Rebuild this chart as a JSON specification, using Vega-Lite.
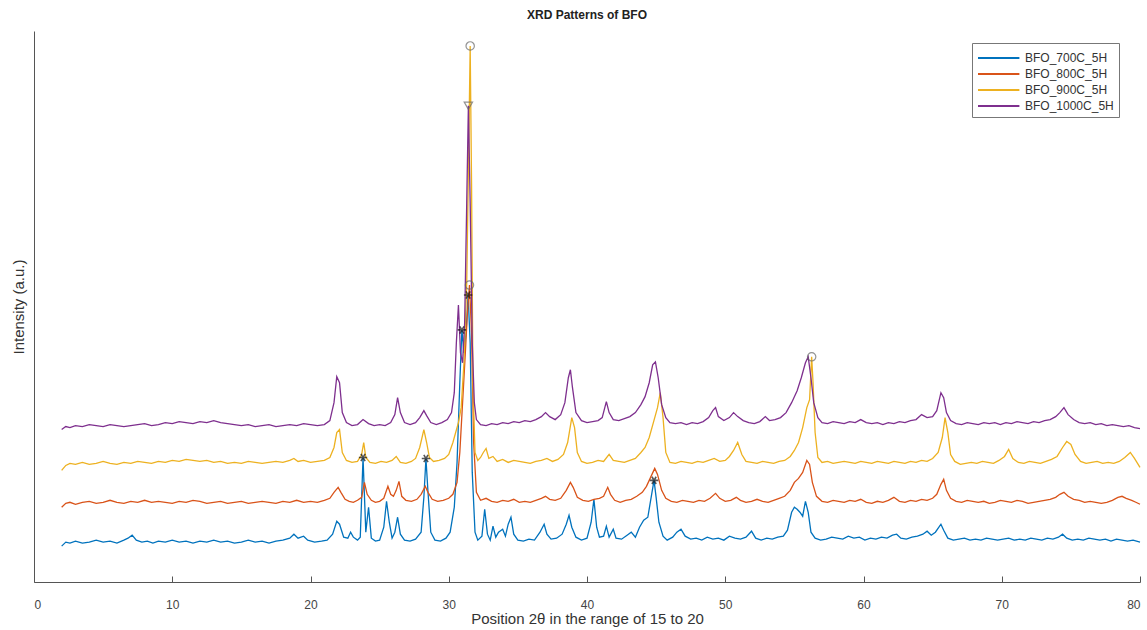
{
"$schema":"https://vega.github.io/schema/vega-lite/v6.json",
"width":1147,"height":630,
"autosize":{"type":"fit","contains":"padding"},
"padding":{"left":11,"top":9,"right":4,"bottom":4},
"background":"white",
"config":{"view":{"stroke":null},"font":"Liberation Sans"},
"title":{"text":"XRD Patterns of BFO","fontSize":12,"fontWeight":"bold","color":"#222","anchor":"middle","offset":9},
"layer":[
{"data":{"values":[
{"s":"BFO_700C_5H","x":2.0,"y":36},{"s":"BFO_700C_5H","x":2.3,"y":40},{"s":"BFO_700C_5H","x":2.6,"y":39},{"s":"BFO_700C_5H","x":3.0,"y":41},{"s":"BFO_700C_5H","x":3.5,"y":39},{"s":"BFO_700C_5H","x":4.0,"y":40},{"s":"BFO_700C_5H","x":4.5,"y":42},{"s":"BFO_700C_5H","x":5.0,"y":40},{"s":"BFO_700C_5H","x":5.5,"y":41},{"s":"BFO_700C_5H","x":6.0,"y":39},{"s":"BFO_700C_5H","x":6.5,"y":42},{"s":"BFO_700C_5H","x":6.8,"y":44},{"s":"BFO_700C_5H","x":7.1,"y":47},{"s":"BFO_700C_5H","x":7.4,"y":42},{"s":"BFO_700C_5H","x":7.8,"y":40},{"s":"BFO_700C_5H","x":8.2,"y":41},{"s":"BFO_700C_5H","x":8.6,"y":39},{"s":"BFO_700C_5H","x":9.0,"y":41},{"s":"BFO_700C_5H","x":9.5,"y":40},{"s":"BFO_700C_5H","x":10.0,"y":42},{"s":"BFO_700C_5H","x":10.5,"y":40},{"s":"BFO_700C_5H","x":11.0,"y":41},{"s":"BFO_700C_5H","x":11.5,"y":39},{"s":"BFO_700C_5H","x":12.0,"y":41},{"s":"BFO_700C_5H","x":12.5,"y":40},{"s":"BFO_700C_5H","x":13.0,"y":42},{"s":"BFO_700C_5H","x":13.5,"y":40},{"s":"BFO_700C_5H","x":14.0,"y":41},{"s":"BFO_700C_5H","x":14.5,"y":39},{"s":"BFO_700C_5H","x":15.0,"y":40},{"s":"BFO_700C_5H","x":15.5,"y":42},{"s":"BFO_700C_5H","x":16.0,"y":40},{"s":"BFO_700C_5H","x":16.5,"y":41},{"s":"BFO_700C_5H","x":17.0,"y":39},{"s":"BFO_700C_5H","x":17.5,"y":41},{"s":"BFO_700C_5H","x":18.0,"y":42},{"s":"BFO_700C_5H","x":18.5,"y":44},{"s":"BFO_700C_5H","x":18.8,"y":48},{"s":"BFO_700C_5H","x":19.1,"y":44},{"s":"BFO_700C_5H","x":19.5,"y":46},{"s":"BFO_700C_5H","x":19.8,"y":42},{"s":"BFO_700C_5H","x":20.3,"y":40},{"s":"BFO_700C_5H","x":20.8,"y":41},{"s":"BFO_700C_5H","x":21.2,"y":42},{"s":"BFO_700C_5H","x":21.6,"y":48},{"s":"BFO_700C_5H","x":21.9,"y":61},{"s":"BFO_700C_5H","x":22.1,"y":58},{"s":"BFO_700C_5H","x":22.4,"y":45},{"s":"BFO_700C_5H","x":22.7,"y":44},{"s":"BFO_700C_5H","x":22.9,"y":50},{"s":"BFO_700C_5H","x":23.1,"y":45},{"s":"BFO_700C_5H","x":23.4,"y":42},{"s":"BFO_700C_5H","x":23.6,"y":45},{"s":"BFO_700C_5H","x":23.8,"y":125},{"s":"BFO_700C_5H","x":24.0,"y":50},{"s":"BFO_700C_5H","x":24.2,"y":75},{"s":"BFO_700C_5H","x":24.4,"y":44},{"s":"BFO_700C_5H","x":24.7,"y":41},{"s":"BFO_700C_5H","x":25.0,"y":42},{"s":"BFO_700C_5H","x":25.3,"y":55},{"s":"BFO_700C_5H","x":25.5,"y":81},{"s":"BFO_700C_5H","x":25.7,"y":60},{"s":"BFO_700C_5H","x":25.9,"y":44},{"s":"BFO_700C_5H","x":26.1,"y":50},{"s":"BFO_700C_5H","x":26.3,"y":65},{"s":"BFO_700C_5H","x":26.5,"y":48},{"s":"BFO_700C_5H","x":26.8,"y":42},{"s":"BFO_700C_5H","x":27.2,"y":41},{"s":"BFO_700C_5H","x":27.6,"y":43},{"s":"BFO_700C_5H","x":28.0,"y":50},{"s":"BFO_700C_5H","x":28.2,"y":85},{"s":"BFO_700C_5H","x":28.35,"y":124},{"s":"BFO_700C_5H","x":28.5,"y":90},{"s":"BFO_700C_5H","x":28.7,"y":50},{"s":"BFO_700C_5H","x":29.0,"y":42},{"s":"BFO_700C_5H","x":29.4,"y":41},{"s":"BFO_700C_5H","x":29.8,"y":44},{"s":"BFO_700C_5H","x":30.1,"y":50},{"s":"BFO_700C_5H","x":30.4,"y":75},{"s":"BFO_700C_5H","x":30.6,"y":120},{"s":"BFO_700C_5H","x":30.8,"y":200},{"s":"BFO_700C_5H","x":30.95,"y":253},{"s":"BFO_700C_5H","x":31.1,"y":230},{"s":"BFO_700C_5H","x":31.25,"y":250},{"s":"BFO_700C_5H","x":31.4,"y":288},{"s":"BFO_700C_5H","x":31.55,"y":240},{"s":"BFO_700C_5H","x":31.7,"y":110},{"s":"BFO_700C_5H","x":31.9,"y":50},{"s":"BFO_700C_5H","x":32.1,"y":42},{"s":"BFO_700C_5H","x":32.4,"y":46},{"s":"BFO_700C_5H","x":32.6,"y":73},{"s":"BFO_700C_5H","x":32.8,"y":48},{"s":"BFO_700C_5H","x":33.0,"y":42},{"s":"BFO_700C_5H","x":33.2,"y":56},{"s":"BFO_700C_5H","x":33.4,"y":45},{"s":"BFO_700C_5H","x":33.6,"y":50},{"s":"BFO_700C_5H","x":33.9,"y":53},{"s":"BFO_700C_5H","x":34.1,"y":46},{"s":"BFO_700C_5H","x":34.3,"y":58},{"s":"BFO_700C_5H","x":34.5,"y":65},{"s":"BFO_700C_5H","x":34.7,"y":48},{"s":"BFO_700C_5H","x":35.0,"y":42},{"s":"BFO_700C_5H","x":35.4,"y":41},{"s":"BFO_700C_5H","x":35.8,"y":43},{"s":"BFO_700C_5H","x":36.2,"y":42},{"s":"BFO_700C_5H","x":36.6,"y":50},{"s":"BFO_700C_5H","x":36.9,"y":58},{"s":"BFO_700C_5H","x":37.1,"y":48},{"s":"BFO_700C_5H","x":37.4,"y":43},{"s":"BFO_700C_5H","x":37.8,"y":44},{"s":"BFO_700C_5H","x":38.2,"y":48},{"s":"BFO_700C_5H","x":38.5,"y":58},{"s":"BFO_700C_5H","x":38.7,"y":67},{"s":"BFO_700C_5H","x":38.9,"y":55},{"s":"BFO_700C_5H","x":39.2,"y":45},{"s":"BFO_700C_5H","x":39.6,"y":42},{"s":"BFO_700C_5H","x":40.0,"y":44},{"s":"BFO_700C_5H","x":40.3,"y":60},{"s":"BFO_700C_5H","x":40.5,"y":83},{"s":"BFO_700C_5H","x":40.7,"y":55},{"s":"BFO_700C_5H","x":40.9,"y":45},{"s":"BFO_700C_5H","x":41.2,"y":46},{"s":"BFO_700C_5H","x":41.4,"y":56},{"s":"BFO_700C_5H","x":41.6,"y":45},{"s":"BFO_700C_5H","x":41.9,"y":53},{"s":"BFO_700C_5H","x":42.1,"y":44},{"s":"BFO_700C_5H","x":42.5,"y":43},{"s":"BFO_700C_5H","x":42.9,"y":47},{"s":"BFO_700C_5H","x":43.2,"y":50},{"s":"BFO_700C_5H","x":43.5,"y":45},{"s":"BFO_700C_5H","x":43.8,"y":55},{"s":"BFO_700C_5H","x":44.1,"y":62},{"s":"BFO_700C_5H","x":44.4,"y":65},{"s":"BFO_700C_5H","x":44.7,"y":90},{"s":"BFO_700C_5H","x":44.85,"y":102},{"s":"BFO_700C_5H","x":45.0,"y":85},{"s":"BFO_700C_5H","x":45.2,"y":60},{"s":"BFO_700C_5H","x":45.5,"y":46},{"s":"BFO_700C_5H","x":45.8,"y":42},{"s":"BFO_700C_5H","x":46.2,"y":45},{"s":"BFO_700C_5H","x":46.5,"y":50},{"s":"BFO_700C_5H","x":46.8,"y":53},{"s":"BFO_700C_5H","x":47.1,"y":46},{"s":"BFO_700C_5H","x":47.5,"y":43},{"s":"BFO_700C_5H","x":47.9,"y":44},{"s":"BFO_700C_5H","x":48.3,"y":42},{"s":"BFO_700C_5H","x":48.7,"y":45},{"s":"BFO_700C_5H","x":49.1,"y":43},{"s":"BFO_700C_5H","x":49.5,"y":44},{"s":"BFO_700C_5H","x":49.9,"y":42},{"s":"BFO_700C_5H","x":50.3,"y":46},{"s":"BFO_700C_5H","x":50.7,"y":44},{"s":"BFO_700C_5H","x":51.1,"y":43},{"s":"BFO_700C_5H","x":51.5,"y":45},{"s":"BFO_700C_5H","x":51.9,"y":51},{"s":"BFO_700C_5H","x":52.2,"y":44},{"s":"BFO_700C_5H","x":52.6,"y":42},{"s":"BFO_700C_5H","x":53.0,"y":44},{"s":"BFO_700C_5H","x":53.4,"y":43},{"s":"BFO_700C_5H","x":53.8,"y":45},{"s":"BFO_700C_5H","x":54.2,"y":46},{"s":"BFO_700C_5H","x":54.5,"y":52},{"s":"BFO_700C_5H","x":54.8,"y":70},{"s":"BFO_700C_5H","x":55.0,"y":75},{"s":"BFO_700C_5H","x":55.2,"y":73},{"s":"BFO_700C_5H","x":55.4,"y":70},{"s":"BFO_700C_5H","x":55.6,"y":66},{"s":"BFO_700C_5H","x":55.8,"y":81},{"s":"BFO_700C_5H","x":56.0,"y":70},{"s":"BFO_700C_5H","x":56.2,"y":50},{"s":"BFO_700C_5H","x":56.5,"y":44},{"s":"BFO_700C_5H","x":56.9,"y":42},{"s":"BFO_700C_5H","x":57.3,"y":43},{"s":"BFO_700C_5H","x":57.7,"y":45},{"s":"BFO_700C_5H","x":58.1,"y":44},{"s":"BFO_700C_5H","x":58.5,"y":43},{"s":"BFO_700C_5H","x":58.9,"y":46},{"s":"BFO_700C_5H","x":59.3,"y":44},{"s":"BFO_700C_5H","x":59.7,"y":45},{"s":"BFO_700C_5H","x":60.1,"y":42},{"s":"BFO_700C_5H","x":60.5,"y":44},{"s":"BFO_700C_5H","x":60.9,"y":43},{"s":"BFO_700C_5H","x":61.3,"y":45},{"s":"BFO_700C_5H","x":61.7,"y":44},{"s":"BFO_700C_5H","x":62.1,"y":47},{"s":"BFO_700C_5H","x":62.4,"y":48},{"s":"BFO_700C_5H","x":62.7,"y":44},{"s":"BFO_700C_5H","x":63.1,"y":43},{"s":"BFO_700C_5H","x":63.5,"y":45},{"s":"BFO_700C_5H","x":63.9,"y":46},{"s":"BFO_700C_5H","x":64.3,"y":48},{"s":"BFO_700C_5H","x":64.6,"y":51},{"s":"BFO_700C_5H","x":64.9,"y":47},{"s":"BFO_700C_5H","x":65.2,"y":50},{"s":"BFO_700C_5H","x":65.6,"y":58},{"s":"BFO_700C_5H","x":65.8,"y":52},{"s":"BFO_700C_5H","x":66.1,"y":44},{"s":"BFO_700C_5H","x":66.5,"y":42},{"s":"BFO_700C_5H","x":66.9,"y":43},{"s":"BFO_700C_5H","x":67.3,"y":44},{"s":"BFO_700C_5H","x":67.7,"y":42},{"s":"BFO_700C_5H","x":68.1,"y":43},{"s":"BFO_700C_5H","x":68.5,"y":42},{"s":"BFO_700C_5H","x":68.9,"y":44},{"s":"BFO_700C_5H","x":69.3,"y":43},{"s":"BFO_700C_5H","x":69.7,"y":42},{"s":"BFO_700C_5H","x":70.1,"y":43},{"s":"BFO_700C_5H","x":70.5,"y":44},{"s":"BFO_700C_5H","x":70.9,"y":42},{"s":"BFO_700C_5H","x":71.3,"y":43},{"s":"BFO_700C_5H","x":71.7,"y":42},{"s":"BFO_700C_5H","x":72.1,"y":44},{"s":"BFO_700C_5H","x":72.5,"y":43},{"s":"BFO_700C_5H","x":72.9,"y":42},{"s":"BFO_700C_5H","x":73.3,"y":44},{"s":"BFO_700C_5H","x":73.7,"y":43},{"s":"BFO_700C_5H","x":74.1,"y":45},{"s":"BFO_700C_5H","x":74.4,"y":48},{"s":"BFO_700C_5H","x":74.7,"y":44},{"s":"BFO_700C_5H","x":75.1,"y":42},{"s":"BFO_700C_5H","x":75.5,"y":43},{"s":"BFO_700C_5H","x":75.9,"y":42},{"s":"BFO_700C_5H","x":76.3,"y":44},{"s":"BFO_700C_5H","x":76.7,"y":43},{"s":"BFO_700C_5H","x":77.1,"y":42},{"s":"BFO_700C_5H","x":77.5,"y":43},{"s":"BFO_700C_5H","x":77.9,"y":41},{"s":"BFO_700C_5H","x":78.3,"y":43},{"s":"BFO_700C_5H","x":78.7,"y":42},{"s":"BFO_700C_5H","x":79.1,"y":41},{"s":"BFO_700C_5H","x":79.5,"y":42},{"s":"BFO_700C_5H","x":80.0,"y":40},
{"s":"BFO_800C_5H","x":2.0,"y":75},{"s":"BFO_800C_5H","x":2.3,"y":79},{"s":"BFO_800C_5H","x":2.6,"y":80},{"s":"BFO_800C_5H","x":3.0,"y":78},{"s":"BFO_800C_5H","x":3.5,"y":80},{"s":"BFO_800C_5H","x":4.0,"y":81},{"s":"BFO_800C_5H","x":4.5,"y":79},{"s":"BFO_800C_5H","x":5.0,"y":80},{"s":"BFO_800C_5H","x":5.5,"y":82},{"s":"BFO_800C_5H","x":6.0,"y":80},{"s":"BFO_800C_5H","x":6.5,"y":79},{"s":"BFO_800C_5H","x":7.0,"y":81},{"s":"BFO_800C_5H","x":7.5,"y":80},{"s":"BFO_800C_5H","x":8.0,"y":82},{"s":"BFO_800C_5H","x":8.5,"y":80},{"s":"BFO_800C_5H","x":9.0,"y":81},{"s":"BFO_800C_5H","x":9.5,"y":80},{"s":"BFO_800C_5H","x":10.0,"y":79},{"s":"BFO_800C_5H","x":10.5,"y":81},{"s":"BFO_800C_5H","x":11.0,"y":80},{"s":"BFO_800C_5H","x":11.5,"y":82},{"s":"BFO_800C_5H","x":12.0,"y":81},{"s":"BFO_800C_5H","x":12.5,"y":79},{"s":"BFO_800C_5H","x":13.0,"y":80},{"s":"BFO_800C_5H","x":13.5,"y":81},{"s":"BFO_800C_5H","x":14.0,"y":79},{"s":"BFO_800C_5H","x":14.5,"y":80},{"s":"BFO_800C_5H","x":15.0,"y":81},{"s":"BFO_800C_5H","x":15.5,"y":79},{"s":"BFO_800C_5H","x":16.0,"y":80},{"s":"BFO_800C_5H","x":16.5,"y":81},{"s":"BFO_800C_5H","x":17.0,"y":80},{"s":"BFO_800C_5H","x":17.5,"y":79},{"s":"BFO_800C_5H","x":18.0,"y":81},{"s":"BFO_800C_5H","x":18.5,"y":80},{"s":"BFO_800C_5H","x":19.0,"y":82},{"s":"BFO_800C_5H","x":19.5,"y":80},{"s":"BFO_800C_5H","x":20.0,"y":81},{"s":"BFO_800C_5H","x":20.5,"y":80},{"s":"BFO_800C_5H","x":21.0,"y":82},{"s":"BFO_800C_5H","x":21.4,"y":84},{"s":"BFO_800C_5H","x":21.7,"y":90},{"s":"BFO_800C_5H","x":22.0,"y":95},{"s":"BFO_800C_5H","x":22.2,"y":90},{"s":"BFO_800C_5H","x":22.5,"y":83},{"s":"BFO_800C_5H","x":22.8,"y":81},{"s":"BFO_800C_5H","x":23.1,"y":80},{"s":"BFO_800C_5H","x":23.4,"y":82},{"s":"BFO_800C_5H","x":23.7,"y":85},{"s":"BFO_800C_5H","x":23.9,"y":100},{"s":"BFO_800C_5H","x":24.1,"y":88},{"s":"BFO_800C_5H","x":24.4,"y":82},{"s":"BFO_800C_5H","x":24.7,"y":80},{"s":"BFO_800C_5H","x":25.0,"y":81},{"s":"BFO_800C_5H","x":25.3,"y":84},{"s":"BFO_800C_5H","x":25.6,"y":96},{"s":"BFO_800C_5H","x":25.8,"y":88},{"s":"BFO_800C_5H","x":26.0,"y":86},{"s":"BFO_800C_5H","x":26.2,"y":92},{"s":"BFO_800C_5H","x":26.4,"y":101},{"s":"BFO_800C_5H","x":26.6,"y":86},{"s":"BFO_800C_5H","x":26.9,"y":82},{"s":"BFO_800C_5H","x":27.3,"y":81},{"s":"BFO_800C_5H","x":27.7,"y":83},{"s":"BFO_800C_5H","x":28.0,"y":88},{"s":"BFO_800C_5H","x":28.3,"y":96},{"s":"BFO_800C_5H","x":28.5,"y":90},{"s":"BFO_800C_5H","x":28.8,"y":83},{"s":"BFO_800C_5H","x":29.2,"y":81},{"s":"BFO_800C_5H","x":29.6,"y":82},{"s":"BFO_800C_5H","x":30.0,"y":84},{"s":"BFO_800C_5H","x":30.3,"y":88},{"s":"BFO_800C_5H","x":30.6,"y":100},{"s":"BFO_800C_5H","x":30.8,"y":130},{"s":"BFO_800C_5H","x":31.0,"y":180},{"s":"BFO_800C_5H","x":31.2,"y":230},{"s":"BFO_800C_5H","x":31.35,"y":270},{"s":"BFO_800C_5H","x":31.5,"y":298},{"s":"BFO_800C_5H","x":31.65,"y":250},{"s":"BFO_800C_5H","x":31.8,"y":140},{"s":"BFO_800C_5H","x":32.0,"y":90},{"s":"BFO_800C_5H","x":32.3,"y":82},{"s":"BFO_800C_5H","x":32.7,"y":84},{"s":"BFO_800C_5H","x":33.1,"y":81},{"s":"BFO_800C_5H","x":33.5,"y":80},{"s":"BFO_800C_5H","x":33.9,"y":82},{"s":"BFO_800C_5H","x":34.3,"y":81},{"s":"BFO_800C_5H","x":34.7,"y":83},{"s":"BFO_800C_5H","x":35.1,"y":80},{"s":"BFO_800C_5H","x":35.5,"y":81},{"s":"BFO_800C_5H","x":35.9,"y":80},{"s":"BFO_800C_5H","x":36.3,"y":82},{"s":"BFO_800C_5H","x":36.7,"y":84},{"s":"BFO_800C_5H","x":37.0,"y":86},{"s":"BFO_800C_5H","x":37.3,"y":83},{"s":"BFO_800C_5H","x":37.7,"y":82},{"s":"BFO_800C_5H","x":38.1,"y":84},{"s":"BFO_800C_5H","x":38.5,"y":92},{"s":"BFO_800C_5H","x":38.8,"y":100},{"s":"BFO_800C_5H","x":39.0,"y":95},{"s":"BFO_800C_5H","x":39.3,"y":85},{"s":"BFO_800C_5H","x":39.7,"y":82},{"s":"BFO_800C_5H","x":40.1,"y":81},{"s":"BFO_800C_5H","x":40.5,"y":83},{"s":"BFO_800C_5H","x":40.9,"y":84},{"s":"BFO_800C_5H","x":41.2,"y":86},{"s":"BFO_800C_5H","x":41.5,"y":95},{"s":"BFO_800C_5H","x":41.7,"y":88},{"s":"BFO_800C_5H","x":42.0,"y":82},{"s":"BFO_800C_5H","x":42.4,"y":80},{"s":"BFO_800C_5H","x":42.8,"y":82},{"s":"BFO_800C_5H","x":43.2,"y":83},{"s":"BFO_800C_5H","x":43.6,"y":86},{"s":"BFO_800C_5H","x":44.0,"y":90},{"s":"BFO_800C_5H","x":44.3,"y":96},{"s":"BFO_800C_5H","x":44.6,"y":105},{"s":"BFO_800C_5H","x":44.9,"y":114},{"s":"BFO_800C_5H","x":45.1,"y":108},{"s":"BFO_800C_5H","x":45.4,"y":92},{"s":"BFO_800C_5H","x":45.7,"y":84},{"s":"BFO_800C_5H","x":46.1,"y":81},{"s":"BFO_800C_5H","x":46.5,"y":80},{"s":"BFO_800C_5H","x":46.9,"y":82},{"s":"BFO_800C_5H","x":47.3,"y":81},{"s":"BFO_800C_5H","x":47.7,"y":80},{"s":"BFO_800C_5H","x":48.1,"y":82},{"s":"BFO_800C_5H","x":48.5,"y":81},{"s":"BFO_800C_5H","x":48.9,"y":84},{"s":"BFO_800C_5H","x":49.3,"y":89},{"s":"BFO_800C_5H","x":49.6,"y":84},{"s":"BFO_800C_5H","x":50.0,"y":81},{"s":"BFO_800C_5H","x":50.4,"y":82},{"s":"BFO_800C_5H","x":50.8,"y":85},{"s":"BFO_800C_5H","x":51.1,"y":82},{"s":"BFO_800C_5H","x":51.5,"y":80},{"s":"BFO_800C_5H","x":51.9,"y":81},{"s":"BFO_800C_5H","x":52.3,"y":83},{"s":"BFO_800C_5H","x":52.7,"y":81},{"s":"BFO_800C_5H","x":53.1,"y":80},{"s":"BFO_800C_5H","x":53.5,"y":82},{"s":"BFO_800C_5H","x":53.9,"y":84},{"s":"BFO_800C_5H","x":54.3,"y":86},{"s":"BFO_800C_5H","x":54.7,"y":92},{"s":"BFO_800C_5H","x":55.0,"y":100},{"s":"BFO_800C_5H","x":55.3,"y":104},{"s":"BFO_800C_5H","x":55.6,"y":110},{"s":"BFO_800C_5H","x":55.9,"y":122},{"s":"BFO_800C_5H","x":56.1,"y":118},{"s":"BFO_800C_5H","x":56.3,"y":100},{"s":"BFO_800C_5H","x":56.6,"y":86},{"s":"BFO_800C_5H","x":57.0,"y":81},{"s":"BFO_800C_5H","x":57.4,"y":80},{"s":"BFO_800C_5H","x":57.8,"y":82},{"s":"BFO_800C_5H","x":58.2,"y":81},{"s":"BFO_800C_5H","x":58.6,"y":80},{"s":"BFO_800C_5H","x":59.0,"y":82},{"s":"BFO_800C_5H","x":59.4,"y":81},{"s":"BFO_800C_5H","x":59.8,"y":83},{"s":"BFO_800C_5H","x":60.2,"y":80},{"s":"BFO_800C_5H","x":60.6,"y":79},{"s":"BFO_800C_5H","x":61.0,"y":81},{"s":"BFO_800C_5H","x":61.4,"y":80},{"s":"BFO_800C_5H","x":61.8,"y":82},{"s":"BFO_800C_5H","x":62.2,"y":85},{"s":"BFO_800C_5H","x":62.6,"y":81},{"s":"BFO_800C_5H","x":63.0,"y":80},{"s":"BFO_800C_5H","x":63.4,"y":82},{"s":"BFO_800C_5H","x":63.8,"y":81},{"s":"BFO_800C_5H","x":64.2,"y":83},{"s":"BFO_800C_5H","x":64.6,"y":82},{"s":"BFO_800C_5H","x":65.0,"y":84},{"s":"BFO_800C_5H","x":65.3,"y":88},{"s":"BFO_800C_5H","x":65.6,"y":98},{"s":"BFO_800C_5H","x":65.8,"y":103},{"s":"BFO_800C_5H","x":66.0,"y":92},{"s":"BFO_800C_5H","x":66.3,"y":84},{"s":"BFO_800C_5H","x":66.7,"y":81},{"s":"BFO_800C_5H","x":67.1,"y":80},{"s":"BFO_800C_5H","x":67.5,"y":82},{"s":"BFO_800C_5H","x":67.9,"y":81},{"s":"BFO_800C_5H","x":68.3,"y":80},{"s":"BFO_800C_5H","x":68.7,"y":81},{"s":"BFO_800C_5H","x":69.1,"y":79},{"s":"BFO_800C_5H","x":69.5,"y":80},{"s":"BFO_800C_5H","x":69.9,"y":82},{"s":"BFO_800C_5H","x":70.3,"y":81},{"s":"BFO_800C_5H","x":70.7,"y":80},{"s":"BFO_800C_5H","x":71.1,"y":82},{"s":"BFO_800C_5H","x":71.5,"y":81},{"s":"BFO_800C_5H","x":71.9,"y":79},{"s":"BFO_800C_5H","x":72.3,"y":80},{"s":"BFO_800C_5H","x":72.7,"y":81},{"s":"BFO_800C_5H","x":73.1,"y":82},{"s":"BFO_800C_5H","x":73.5,"y":83},{"s":"BFO_800C_5H","x":73.9,"y":85},{"s":"BFO_800C_5H","x":74.2,"y":88},{"s":"BFO_800C_5H","x":74.5,"y":90},{"s":"BFO_800C_5H","x":74.8,"y":86},{"s":"BFO_800C_5H","x":75.2,"y":83},{"s":"BFO_800C_5H","x":75.6,"y":82},{"s":"BFO_800C_5H","x":76.0,"y":80},{"s":"BFO_800C_5H","x":76.4,"y":81},{"s":"BFO_800C_5H","x":76.8,"y":80},{"s":"BFO_800C_5H","x":77.2,"y":79},{"s":"BFO_800C_5H","x":77.6,"y":80},{"s":"BFO_800C_5H","x":78.0,"y":82},{"s":"BFO_800C_5H","x":78.4,"y":85},{"s":"BFO_800C_5H","x":78.7,"y":86},{"s":"BFO_800C_5H","x":79.0,"y":84},{"s":"BFO_800C_5H","x":79.4,"y":82},{"s":"BFO_800C_5H","x":79.7,"y":80},{"s":"BFO_800C_5H","x":80.0,"y":78},
{"s":"BFO_900C_5H","x":2.0,"y":112},{"s":"BFO_900C_5H","x":2.3,"y":117},{"s":"BFO_900C_5H","x":2.6,"y":119},{"s":"BFO_900C_5H","x":3.0,"y":118},{"s":"BFO_900C_5H","x":3.5,"y":120},{"s":"BFO_900C_5H","x":4.0,"y":118},{"s":"BFO_900C_5H","x":4.5,"y":119},{"s":"BFO_900C_5H","x":5.0,"y":121},{"s":"BFO_900C_5H","x":5.5,"y":119},{"s":"BFO_900C_5H","x":6.0,"y":118},{"s":"BFO_900C_5H","x":6.5,"y":120},{"s":"BFO_900C_5H","x":7.0,"y":119},{"s":"BFO_900C_5H","x":7.5,"y":121},{"s":"BFO_900C_5H","x":8.0,"y":120},{"s":"BFO_900C_5H","x":8.5,"y":119},{"s":"BFO_900C_5H","x":9.0,"y":121},{"s":"BFO_900C_5H","x":9.5,"y":120},{"s":"BFO_900C_5H","x":10.0,"y":122},{"s":"BFO_900C_5H","x":10.5,"y":121},{"s":"BFO_900C_5H","x":11.0,"y":123},{"s":"BFO_900C_5H","x":11.5,"y":122},{"s":"BFO_900C_5H","x":12.0,"y":121},{"s":"BFO_900C_5H","x":12.5,"y":122},{"s":"BFO_900C_5H","x":13.0,"y":120},{"s":"BFO_900C_5H","x":13.5,"y":121},{"s":"BFO_900C_5H","x":14.0,"y":119},{"s":"BFO_900C_5H","x":14.5,"y":120},{"s":"BFO_900C_5H","x":15.0,"y":119},{"s":"BFO_900C_5H","x":15.5,"y":121},{"s":"BFO_900C_5H","x":16.0,"y":120},{"s":"BFO_900C_5H","x":16.5,"y":119},{"s":"BFO_900C_5H","x":17.0,"y":120},{"s":"BFO_900C_5H","x":17.5,"y":121},{"s":"BFO_900C_5H","x":18.0,"y":120},{"s":"BFO_900C_5H","x":18.5,"y":122},{"s":"BFO_900C_5H","x":18.8,"y":124},{"s":"BFO_900C_5H","x":19.1,"y":121},{"s":"BFO_900C_5H","x":19.5,"y":122},{"s":"BFO_900C_5H","x":20.0,"y":120},{"s":"BFO_900C_5H","x":20.5,"y":121},{"s":"BFO_900C_5H","x":21.0,"y":122},{"s":"BFO_900C_5H","x":21.4,"y":125},{"s":"BFO_900C_5H","x":21.7,"y":135},{"s":"BFO_900C_5H","x":21.9,"y":150},{"s":"BFO_900C_5H","x":22.1,"y":153},{"s":"BFO_900C_5H","x":22.3,"y":130},{"s":"BFO_900C_5H","x":22.6,"y":122},{"s":"BFO_900C_5H","x":23.0,"y":120},{"s":"BFO_900C_5H","x":23.4,"y":121},{"s":"BFO_900C_5H","x":23.7,"y":128},{"s":"BFO_900C_5H","x":23.85,"y":140},{"s":"BFO_900C_5H","x":24.0,"y":125},{"s":"BFO_900C_5H","x":24.3,"y":120},{"s":"BFO_900C_5H","x":24.7,"y":119},{"s":"BFO_900C_5H","x":25.1,"y":121},{"s":"BFO_900C_5H","x":25.5,"y":120},{"s":"BFO_900C_5H","x":25.9,"y":122},{"s":"BFO_900C_5H","x":26.2,"y":126},{"s":"BFO_900C_5H","x":26.5,"y":120},{"s":"BFO_900C_5H","x":26.9,"y":119},{"s":"BFO_900C_5H","x":27.3,"y":121},{"s":"BFO_900C_5H","x":27.6,"y":124},{"s":"BFO_900C_5H","x":27.9,"y":135},{"s":"BFO_900C_5H","x":28.2,"y":153},{"s":"BFO_900C_5H","x":28.4,"y":140},{"s":"BFO_900C_5H","x":28.6,"y":125},{"s":"BFO_900C_5H","x":28.9,"y":121},{"s":"BFO_900C_5H","x":29.3,"y":122},{"s":"BFO_900C_5H","x":29.7,"y":124},{"s":"BFO_900C_5H","x":30.0,"y":128},{"s":"BFO_900C_5H","x":30.3,"y":140},{"s":"BFO_900C_5H","x":30.5,"y":150},{"s":"BFO_900C_5H","x":30.7,"y":160},{"s":"BFO_900C_5H","x":30.9,"y":175},{"s":"BFO_900C_5H","x":31.1,"y":220},{"s":"BFO_900C_5H","x":31.3,"y":300},{"s":"BFO_900C_5H","x":31.45,"y":440},{"s":"BFO_900C_5H","x":31.55,"y":538},{"s":"BFO_900C_5H","x":31.65,"y":400},{"s":"BFO_900C_5H","x":31.75,"y":200},{"s":"BFO_900C_5H","x":31.9,"y":130},{"s":"BFO_900C_5H","x":32.1,"y":122},{"s":"BFO_900C_5H","x":32.3,"y":125},{"s":"BFO_900C_5H","x":32.5,"y":130},{"s":"BFO_900C_5H","x":32.7,"y":134},{"s":"BFO_900C_5H","x":32.9,"y":124},{"s":"BFO_900C_5H","x":33.2,"y":126},{"s":"BFO_900C_5H","x":33.5,"y":121},{"s":"BFO_900C_5H","x":33.9,"y":123},{"s":"BFO_900C_5H","x":34.3,"y":120},{"s":"BFO_900C_5H","x":34.7,"y":122},{"s":"BFO_900C_5H","x":35.1,"y":121},{"s":"BFO_900C_5H","x":35.5,"y":120},{"s":"BFO_900C_5H","x":35.9,"y":119},{"s":"BFO_900C_5H","x":36.3,"y":121},{"s":"BFO_900C_5H","x":36.7,"y":122},{"s":"BFO_900C_5H","x":37.1,"y":124},{"s":"BFO_900C_5H","x":37.5,"y":121},{"s":"BFO_900C_5H","x":37.9,"y":123},{"s":"BFO_900C_5H","x":38.3,"y":128},{"s":"BFO_900C_5H","x":38.6,"y":140},{"s":"BFO_900C_5H","x":38.9,"y":165},{"s":"BFO_900C_5H","x":39.1,"y":155},{"s":"BFO_900C_5H","x":39.3,"y":130},{"s":"BFO_900C_5H","x":39.6,"y":121},{"s":"BFO_900C_5H","x":40.0,"y":119},{"s":"BFO_900C_5H","x":40.4,"y":120},{"s":"BFO_900C_5H","x":40.8,"y":122},{"s":"BFO_900C_5H","x":41.2,"y":121},{"s":"BFO_900C_5H","x":41.6,"y":128},{"s":"BFO_900C_5H","x":41.9,"y":122},{"s":"BFO_900C_5H","x":42.3,"y":121},{"s":"BFO_900C_5H","x":42.7,"y":120},{"s":"BFO_900C_5H","x":43.1,"y":122},{"s":"BFO_900C_5H","x":43.5,"y":124},{"s":"BFO_900C_5H","x":43.9,"y":130},{"s":"BFO_900C_5H","x":44.2,"y":135},{"s":"BFO_900C_5H","x":44.5,"y":145},{"s":"BFO_900C_5H","x":44.8,"y":160},{"s":"BFO_900C_5H","x":45.1,"y":175},{"s":"BFO_900C_5H","x":45.3,"y":190},{"s":"BFO_900C_5H","x":45.5,"y":165},{"s":"BFO_900C_5H","x":45.7,"y":130},{"s":"BFO_900C_5H","x":46.0,"y":120},{"s":"BFO_900C_5H","x":46.4,"y":119},{"s":"BFO_900C_5H","x":46.8,"y":121},{"s":"BFO_900C_5H","x":47.2,"y":120},{"s":"BFO_900C_5H","x":47.6,"y":119},{"s":"BFO_900C_5H","x":48.0,"y":121},{"s":"BFO_900C_5H","x":48.4,"y":120},{"s":"BFO_900C_5H","x":48.8,"y":122},{"s":"BFO_900C_5H","x":49.2,"y":124},{"s":"BFO_900C_5H","x":49.6,"y":121},{"s":"BFO_900C_5H","x":50.0,"y":122},{"s":"BFO_900C_5H","x":50.3,"y":126},{"s":"BFO_900C_5H","x":50.6,"y":132},{"s":"BFO_900C_5H","x":50.9,"y":140},{"s":"BFO_900C_5H","x":51.2,"y":128},{"s":"BFO_900C_5H","x":51.5,"y":121},{"s":"BFO_900C_5H","x":51.9,"y":120},{"s":"BFO_900C_5H","x":52.3,"y":119},{"s":"BFO_900C_5H","x":52.7,"y":121},{"s":"BFO_900C_5H","x":53.1,"y":120},{"s":"BFO_900C_5H","x":53.5,"y":119},{"s":"BFO_900C_5H","x":53.9,"y":121},{"s":"BFO_900C_5H","x":54.3,"y":122},{"s":"BFO_900C_5H","x":54.7,"y":126},{"s":"BFO_900C_5H","x":55.0,"y":132},{"s":"BFO_900C_5H","x":55.3,"y":140},{"s":"BFO_900C_5H","x":55.6,"y":155},{"s":"BFO_900C_5H","x":55.9,"y":175},{"s":"BFO_900C_5H","x":56.1,"y":183},{"s":"BFO_900C_5H","x":56.25,"y":226},{"s":"BFO_900C_5H","x":56.35,"y":200},{"s":"BFO_900C_5H","x":56.5,"y":150},{"s":"BFO_900C_5H","x":56.7,"y":125},{"s":"BFO_900C_5H","x":57.0,"y":120},{"s":"BFO_900C_5H","x":57.4,"y":121},{"s":"BFO_900C_5H","x":57.8,"y":119},{"s":"BFO_900C_5H","x":58.2,"y":120},{"s":"BFO_900C_5H","x":58.6,"y":121},{"s":"BFO_900C_5H","x":59.0,"y":120},{"s":"BFO_900C_5H","x":59.4,"y":119},{"s":"BFO_900C_5H","x":59.8,"y":121},{"s":"BFO_900C_5H","x":60.2,"y":120},{"s":"BFO_900C_5H","x":60.6,"y":119},{"s":"BFO_900C_5H","x":61.0,"y":121},{"s":"BFO_900C_5H","x":61.4,"y":120},{"s":"BFO_900C_5H","x":61.8,"y":119},{"s":"BFO_900C_5H","x":62.2,"y":121},{"s":"BFO_900C_5H","x":62.6,"y":120},{"s":"BFO_900C_5H","x":63.0,"y":119},{"s":"BFO_900C_5H","x":63.4,"y":121},{"s":"BFO_900C_5H","x":63.8,"y":120},{"s":"BFO_900C_5H","x":64.2,"y":122},{"s":"BFO_900C_5H","x":64.6,"y":121},{"s":"BFO_900C_5H","x":65.0,"y":124},{"s":"BFO_900C_5H","x":65.4,"y":130},{"s":"BFO_900C_5H","x":65.7,"y":145},{"s":"BFO_900C_5H","x":65.9,"y":165},{"s":"BFO_900C_5H","x":66.1,"y":150},{"s":"BFO_900C_5H","x":66.3,"y":128},{"s":"BFO_900C_5H","x":66.6,"y":121},{"s":"BFO_900C_5H","x":67.0,"y":118},{"s":"BFO_900C_5H","x":67.4,"y":119},{"s":"BFO_900C_5H","x":67.8,"y":120},{"s":"BFO_900C_5H","x":68.2,"y":119},{"s":"BFO_900C_5H","x":68.6,"y":121},{"s":"BFO_900C_5H","x":69.0,"y":120},{"s":"BFO_900C_5H","x":69.4,"y":119},{"s":"BFO_900C_5H","x":69.8,"y":122},{"s":"BFO_900C_5H","x":70.2,"y":126},{"s":"BFO_900C_5H","x":70.5,"y":133},{"s":"BFO_900C_5H","x":70.8,"y":124},{"s":"BFO_900C_5H","x":71.2,"y":120},{"s":"BFO_900C_5H","x":71.6,"y":119},{"s":"BFO_900C_5H","x":72.0,"y":121},{"s":"BFO_900C_5H","x":72.4,"y":120},{"s":"BFO_900C_5H","x":72.8,"y":119},{"s":"BFO_900C_5H","x":73.2,"y":121},{"s":"BFO_900C_5H","x":73.6,"y":123},{"s":"BFO_900C_5H","x":74.0,"y":126},{"s":"BFO_900C_5H","x":74.4,"y":135},{"s":"BFO_900C_5H","x":74.7,"y":141},{"s":"BFO_900C_5H","x":75.0,"y":138},{"s":"BFO_900C_5H","x":75.3,"y":128},{"s":"BFO_900C_5H","x":75.7,"y":121},{"s":"BFO_900C_5H","x":76.1,"y":119},{"s":"BFO_900C_5H","x":76.5,"y":120},{"s":"BFO_900C_5H","x":76.9,"y":121},{"s":"BFO_900C_5H","x":77.3,"y":119},{"s":"BFO_900C_5H","x":77.7,"y":120},{"s":"BFO_900C_5H","x":78.1,"y":119},{"s":"BFO_900C_5H","x":78.5,"y":121},{"s":"BFO_900C_5H","x":78.9,"y":125},{"s":"BFO_900C_5H","x":79.3,"y":130},{"s":"BFO_900C_5H","x":79.6,"y":124},{"s":"BFO_900C_5H","x":80.0,"y":115},
{"s":"BFO_1000C_5H","x":2.0,"y":153},{"s":"BFO_1000C_5H","x":2.3,"y":156},{"s":"BFO_1000C_5H","x":2.6,"y":155},{"s":"BFO_1000C_5H","x":3.0,"y":157},{"s":"BFO_1000C_5H","x":3.5,"y":156},{"s":"BFO_1000C_5H","x":4.0,"y":158},{"s":"BFO_1000C_5H","x":4.5,"y":157},{"s":"BFO_1000C_5H","x":5.0,"y":156},{"s":"BFO_1000C_5H","x":5.5,"y":158},{"s":"BFO_1000C_5H","x":6.0,"y":157},{"s":"BFO_1000C_5H","x":6.5,"y":156},{"s":"BFO_1000C_5H","x":7.0,"y":157},{"s":"BFO_1000C_5H","x":7.5,"y":158},{"s":"BFO_1000C_5H","x":8.0,"y":159},{"s":"BFO_1000C_5H","x":8.5,"y":157},{"s":"BFO_1000C_5H","x":9.0,"y":158},{"s":"BFO_1000C_5H","x":9.5,"y":160},{"s":"BFO_1000C_5H","x":10.0,"y":159},{"s":"BFO_1000C_5H","x":10.5,"y":161},{"s":"BFO_1000C_5H","x":11.0,"y":160},{"s":"BFO_1000C_5H","x":11.5,"y":159},{"s":"BFO_1000C_5H","x":12.0,"y":161},{"s":"BFO_1000C_5H","x":12.5,"y":160},{"s":"BFO_1000C_5H","x":13.0,"y":162},{"s":"BFO_1000C_5H","x":13.5,"y":160},{"s":"BFO_1000C_5H","x":14.0,"y":159},{"s":"BFO_1000C_5H","x":14.5,"y":158},{"s":"BFO_1000C_5H","x":15.0,"y":157},{"s":"BFO_1000C_5H","x":15.5,"y":158},{"s":"BFO_1000C_5H","x":16.0,"y":156},{"s":"BFO_1000C_5H","x":16.5,"y":157},{"s":"BFO_1000C_5H","x":17.0,"y":158},{"s":"BFO_1000C_5H","x":17.5,"y":156},{"s":"BFO_1000C_5H","x":18.0,"y":157},{"s":"BFO_1000C_5H","x":18.5,"y":158},{"s":"BFO_1000C_5H","x":19.0,"y":157},{"s":"BFO_1000C_5H","x":19.5,"y":159},{"s":"BFO_1000C_5H","x":20.0,"y":158},{"s":"BFO_1000C_5H","x":20.5,"y":157},{"s":"BFO_1000C_5H","x":21.0,"y":158},{"s":"BFO_1000C_5H","x":21.4,"y":162},{"s":"BFO_1000C_5H","x":21.7,"y":180},{"s":"BFO_1000C_5H","x":21.9,"y":206},{"s":"BFO_1000C_5H","x":22.1,"y":200},{"s":"BFO_1000C_5H","x":22.3,"y":170},{"s":"BFO_1000C_5H","x":22.6,"y":160},{"s":"BFO_1000C_5H","x":23.0,"y":157},{"s":"BFO_1000C_5H","x":23.4,"y":158},{"s":"BFO_1000C_5H","x":23.8,"y":163},{"s":"BFO_1000C_5H","x":24.2,"y":159},{"s":"BFO_1000C_5H","x":24.6,"y":157},{"s":"BFO_1000C_5H","x":25.0,"y":158},{"s":"BFO_1000C_5H","x":25.4,"y":157},{"s":"BFO_1000C_5H","x":25.8,"y":160},{"s":"BFO_1000C_5H","x":26.1,"y":168},{"s":"BFO_1000C_5H","x":26.3,"y":185},{"s":"BFO_1000C_5H","x":26.5,"y":170},{"s":"BFO_1000C_5H","x":26.8,"y":160},{"s":"BFO_1000C_5H","x":27.2,"y":158},{"s":"BFO_1000C_5H","x":27.6,"y":160},{"s":"BFO_1000C_5H","x":27.9,"y":165},{"s":"BFO_1000C_5H","x":28.2,"y":172},{"s":"BFO_1000C_5H","x":28.4,"y":167},{"s":"BFO_1000C_5H","x":28.7,"y":160},{"s":"BFO_1000C_5H","x":29.1,"y":158},{"s":"BFO_1000C_5H","x":29.5,"y":160},{"s":"BFO_1000C_5H","x":29.9,"y":163},{"s":"BFO_1000C_5H","x":30.2,"y":170},{"s":"BFO_1000C_5H","x":30.4,"y":190},{"s":"BFO_1000C_5H","x":30.55,"y":240},{"s":"BFO_1000C_5H","x":30.7,"y":278},{"s":"BFO_1000C_5H","x":30.85,"y":230},{"s":"BFO_1000C_5H","x":31.0,"y":220},{"s":"BFO_1000C_5H","x":31.15,"y":260},{"s":"BFO_1000C_5H","x":31.3,"y":380},{"s":"BFO_1000C_5H","x":31.42,"y":478},{"s":"BFO_1000C_5H","x":31.55,"y":380},{"s":"BFO_1000C_5H","x":31.7,"y":240},{"s":"BFO_1000C_5H","x":31.85,"y":180},{"s":"BFO_1000C_5H","x":32.0,"y":163},{"s":"BFO_1000C_5H","x":32.3,"y":158},{"s":"BFO_1000C_5H","x":32.7,"y":157},{"s":"BFO_1000C_5H","x":33.1,"y":159},{"s":"BFO_1000C_5H","x":33.5,"y":158},{"s":"BFO_1000C_5H","x":33.9,"y":160},{"s":"BFO_1000C_5H","x":34.3,"y":159},{"s":"BFO_1000C_5H","x":34.7,"y":161},{"s":"BFO_1000C_5H","x":35.1,"y":160},{"s":"BFO_1000C_5H","x":35.5,"y":162},{"s":"BFO_1000C_5H","x":35.9,"y":161},{"s":"BFO_1000C_5H","x":36.3,"y":163},{"s":"BFO_1000C_5H","x":36.7,"y":166},{"s":"BFO_1000C_5H","x":37.0,"y":170},{"s":"BFO_1000C_5H","x":37.3,"y":166},{"s":"BFO_1000C_5H","x":37.7,"y":163},{"s":"BFO_1000C_5H","x":38.1,"y":168},{"s":"BFO_1000C_5H","x":38.4,"y":180},{"s":"BFO_1000C_5H","x":38.65,"y":205},{"s":"BFO_1000C_5H","x":38.8,"y":213},{"s":"BFO_1000C_5H","x":38.95,"y":195},{"s":"BFO_1000C_5H","x":39.2,"y":170},{"s":"BFO_1000C_5H","x":39.6,"y":162},{"s":"BFO_1000C_5H","x":40.0,"y":160},{"s":"BFO_1000C_5H","x":40.4,"y":161},{"s":"BFO_1000C_5H","x":40.8,"y":162},{"s":"BFO_1000C_5H","x":41.1,"y":165},{"s":"BFO_1000C_5H","x":41.4,"y":181},{"s":"BFO_1000C_5H","x":41.6,"y":170},{"s":"BFO_1000C_5H","x":41.9,"y":163},{"s":"BFO_1000C_5H","x":42.3,"y":162},{"s":"BFO_1000C_5H","x":42.7,"y":164},{"s":"BFO_1000C_5H","x":43.1,"y":166},{"s":"BFO_1000C_5H","x":43.5,"y":170},{"s":"BFO_1000C_5H","x":43.9,"y":178},{"s":"BFO_1000C_5H","x":44.2,"y":186},{"s":"BFO_1000C_5H","x":44.5,"y":200},{"s":"BFO_1000C_5H","x":44.75,"y":218},{"s":"BFO_1000C_5H","x":44.95,"y":221},{"s":"BFO_1000C_5H","x":45.15,"y":205},{"s":"BFO_1000C_5H","x":45.4,"y":178},{"s":"BFO_1000C_5H","x":45.7,"y":165},{"s":"BFO_1000C_5H","x":46.0,"y":160},{"s":"BFO_1000C_5H","x":46.4,"y":159},{"s":"BFO_1000C_5H","x":46.8,"y":160},{"s":"BFO_1000C_5H","x":47.2,"y":158},{"s":"BFO_1000C_5H","x":47.6,"y":160},{"s":"BFO_1000C_5H","x":48.0,"y":159},{"s":"BFO_1000C_5H","x":48.4,"y":161},{"s":"BFO_1000C_5H","x":48.8,"y":165},{"s":"BFO_1000C_5H","x":49.1,"y":172},{"s":"BFO_1000C_5H","x":49.3,"y":175},{"s":"BFO_1000C_5H","x":49.5,"y":166},{"s":"BFO_1000C_5H","x":49.9,"y":162},{"s":"BFO_1000C_5H","x":50.3,"y":165},{"s":"BFO_1000C_5H","x":50.6,"y":170},{"s":"BFO_1000C_5H","x":50.9,"y":166},{"s":"BFO_1000C_5H","x":51.3,"y":162},{"s":"BFO_1000C_5H","x":51.7,"y":160},{"s":"BFO_1000C_5H","x":52.1,"y":159},{"s":"BFO_1000C_5H","x":52.5,"y":161},{"s":"BFO_1000C_5H","x":52.9,"y":166},{"s":"BFO_1000C_5H","x":53.2,"y":162},{"s":"BFO_1000C_5H","x":53.6,"y":163},{"s":"BFO_1000C_5H","x":54.0,"y":165},{"s":"BFO_1000C_5H","x":54.4,"y":170},{"s":"BFO_1000C_5H","x":54.8,"y":180},{"s":"BFO_1000C_5H","x":55.2,"y":192},{"s":"BFO_1000C_5H","x":55.5,"y":205},{"s":"BFO_1000C_5H","x":55.8,"y":220},{"s":"BFO_1000C_5H","x":56.0,"y":226},{"s":"BFO_1000C_5H","x":56.2,"y":205},{"s":"BFO_1000C_5H","x":56.4,"y":180},{"s":"BFO_1000C_5H","x":56.7,"y":165},{"s":"BFO_1000C_5H","x":57.0,"y":160},{"s":"BFO_1000C_5H","x":57.4,"y":159},{"s":"BFO_1000C_5H","x":57.8,"y":161},{"s":"BFO_1000C_5H","x":58.2,"y":160},{"s":"BFO_1000C_5H","x":58.6,"y":159},{"s":"BFO_1000C_5H","x":59.0,"y":161},{"s":"BFO_1000C_5H","x":59.4,"y":160},{"s":"BFO_1000C_5H","x":59.8,"y":163},{"s":"BFO_1000C_5H","x":60.2,"y":160},{"s":"BFO_1000C_5H","x":60.6,"y":159},{"s":"BFO_1000C_5H","x":61.0,"y":160},{"s":"BFO_1000C_5H","x":61.4,"y":158},{"s":"BFO_1000C_5H","x":61.8,"y":160},{"s":"BFO_1000C_5H","x":62.2,"y":159},{"s":"BFO_1000C_5H","x":62.6,"y":161},{"s":"BFO_1000C_5H","x":63.0,"y":160},{"s":"BFO_1000C_5H","x":63.4,"y":162},{"s":"BFO_1000C_5H","x":63.8,"y":163},{"s":"BFO_1000C_5H","x":64.2,"y":168},{"s":"BFO_1000C_5H","x":64.6,"y":165},{"s":"BFO_1000C_5H","x":65.0,"y":166},{"s":"BFO_1000C_5H","x":65.3,"y":172},{"s":"BFO_1000C_5H","x":65.6,"y":190},{"s":"BFO_1000C_5H","x":65.8,"y":185},{"s":"BFO_1000C_5H","x":66.0,"y":170},{"s":"BFO_1000C_5H","x":66.3,"y":162},{"s":"BFO_1000C_5H","x":66.7,"y":159},{"s":"BFO_1000C_5H","x":67.1,"y":158},{"s":"BFO_1000C_5H","x":67.5,"y":160},{"s":"BFO_1000C_5H","x":67.9,"y":159},{"s":"BFO_1000C_5H","x":68.3,"y":158},{"s":"BFO_1000C_5H","x":68.7,"y":160},{"s":"BFO_1000C_5H","x":69.1,"y":159},{"s":"BFO_1000C_5H","x":69.5,"y":160},{"s":"BFO_1000C_5H","x":69.9,"y":158},{"s":"BFO_1000C_5H","x":70.3,"y":160},{"s":"BFO_1000C_5H","x":70.7,"y":159},{"s":"BFO_1000C_5H","x":71.1,"y":161},{"s":"BFO_1000C_5H","x":71.5,"y":160},{"s":"BFO_1000C_5H","x":71.9,"y":159},{"s":"BFO_1000C_5H","x":72.3,"y":161},{"s":"BFO_1000C_5H","x":72.7,"y":160},{"s":"BFO_1000C_5H","x":73.1,"y":162},{"s":"BFO_1000C_5H","x":73.5,"y":163},{"s":"BFO_1000C_5H","x":73.9,"y":166},{"s":"BFO_1000C_5H","x":74.2,"y":170},{"s":"BFO_1000C_5H","x":74.5,"y":175},{"s":"BFO_1000C_5H","x":74.8,"y":168},{"s":"BFO_1000C_5H","x":75.2,"y":163},{"s":"BFO_1000C_5H","x":75.6,"y":160},{"s":"BFO_1000C_5H","x":76.0,"y":159},{"s":"BFO_1000C_5H","x":76.4,"y":160},{"s":"BFO_1000C_5H","x":76.8,"y":158},{"s":"BFO_1000C_5H","x":77.2,"y":159},{"s":"BFO_1000C_5H","x":77.6,"y":157},{"s":"BFO_1000C_5H","x":78.0,"y":158},{"s":"BFO_1000C_5H","x":78.4,"y":157},{"s":"BFO_1000C_5H","x":78.8,"y":156},{"s":"BFO_1000C_5H","x":79.2,"y":157},{"s":"BFO_1000C_5H","x":79.6,"y":155},{"s":"BFO_1000C_5H","x":80.0,"y":154}
]},
"mark":{"type":"line","strokeWidth":1.3},
"encoding":{
"x":{"field":"x","type":"quantitative","scale":{"domain":[0,80],"nice":false,"zero":false},
"axis":{"orient":"bottom","title":"Position 2θ in the range of 15 to 20","values":[0,10,20,30,40,50,60,70,80],"grid":false,"domainColor":"#555","tickColor":"#555","tickSize":-6,"labelPadding":23,"labelColor":"#444","labelFontSize":12,"titleFontSize":15,"titleFontWeight":"normal","titleColor":"#333","titlePadding":1}},
"y":{"field":"y","type":"quantitative","scale":{"domain":[0,553],"nice":false,"zero":false},
"axis":{"orient":"left","title":"Intensity (a.u.)","labels":false,"ticks":false,"grid":false,"domainColor":"#555","titleFontSize":15,"titleFontWeight":"normal","titleColor":"#333","titlePadding":8}},
"color":{"field":"s","type":"nominal",
"scale":{"domain":["BFO_700C_5H","BFO_800C_5H","BFO_900C_5H","BFO_1000C_5H"],"range":["#0072BD","#D95319","#EDB120","#7E2F8E"]},
"legend":{"title":null,"orient":"none","legendX":938,"legendY":12,"symbolType":"M-1,0L3.6,0","symbolSize":324,"symbolStrokeWidth":2,"labelOffset":28,"labelFontSize":12,"labelColor":"#333","rowPadding":0,"strokeColor":"#777","padding":5,"fillColor":"white"}},
"order":{"field":"x","type":"quantitative"}
}},
{"data":{"values":[{"x":31.55,"y":538},{"x":31.5,"y":298},{"x":56.25,"y":226}]},
"mark":{"type":"point","shape":"circle","filled":false,"stroke":"#666","strokeWidth":1.2,"size":70},
"encoding":{"x":{"field":"x","type":"quantitative"},"y":{"field":"y","type":"quantitative"}}},
{"data":{"values":[{"x":31.42,"y":478}]},
"mark":{"type":"point","shape":"triangle-down","filled":false,"stroke":"#666","strokeWidth":1.2,"size":70},
"encoding":{"x":{"field":"x","type":"quantitative"},"y":{"field":"y","type":"quantitative"}}},
{"data":{"values":[{"x":23.8,"y":125},{"x":28.35,"y":124},{"x":30.95,"y":253},{"x":31.4,"y":288},{"x":44.85,"y":102}]},
"mark":{"type":"point","shape":"M-1,0L1,0M-0.5,-0.87L0.5,0.87M-0.5,0.87L0.5,-0.87","filled":false,"stroke":"#111","strokeWidth":1.6,"size":70},
"encoding":{"x":{"field":"x","type":"quantitative"},"y":{"field":"y","type":"quantitative"}}}
]
}
